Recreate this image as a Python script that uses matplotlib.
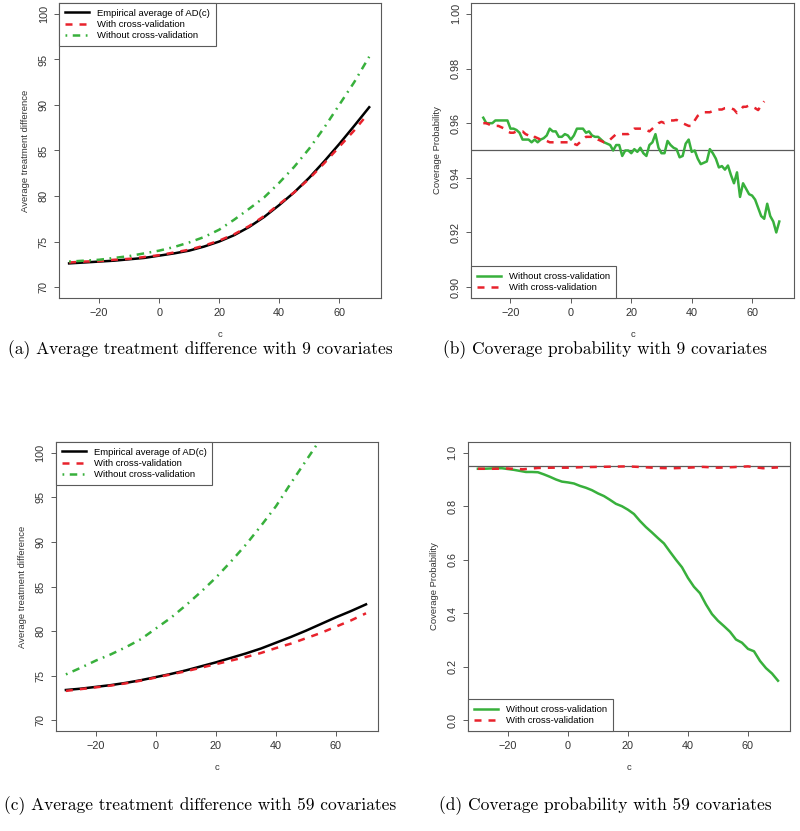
import numpy as np
import matplotlib
matplotlib.use("Agg")
import matplotlib.pyplot as plt

plt.rcParams['font.family'] = ['Liberation Sans', 'DejaVu Sans']

# ---- panel (a): 9 covariates, average treatment difference ----
a_c = [-30, -25, -20, -15, -10, -5, 0, 5, 10, 15, 20, 25, 30, 35, 40, 45, 50, 55, 60, 65, 70]
a_emp = [72.6, 72.7, 72.8, 72.9, 73.05, 73.2, 73.45, 73.7, 74.0, 74.45, 75.0,
         75.7, 76.6, 77.7, 79.0, 80.4, 82.0, 83.8, 85.7, 87.7, 89.75]
a_cv_c = [-30, -25, -20, -15, -10, -5, 0, 5, 10, 15, 20, 25, 30, 35, 40, 45, 50, 55, 60, 65, 68.5]
a_cv = [72.7, 72.8, 72.85, 73.0, 73.1, 73.3, 73.5, 73.8, 74.1, 74.55, 75.1,
        75.8, 76.7, 77.8, 79.1, 80.4, 81.9, 83.6, 85.4, 87.2, 88.6]
a_nocv = [72.8, 72.9, 73.0, 73.2, 73.4, 73.7, 74.0, 74.4, 74.9, 75.5, 76.3,
          77.4, 78.6, 79.85, 81.45, 83.2, 85.2, 87.5, 90.0, 92.5, 95.3]

# ---- panel (b): 9 covariates, coverage probability ----
b_c = list(range(-29, 70))
b_nocv = [0.962, 0.960, 0.960, 0.960, 0.961, 0.961, 0.961, 0.961, 0.961, 0.958,
          0.958, 0.9575, 0.9565, 0.954, 0.954, 0.954, 0.953, 0.954, 0.953, 0.954,
          0.9545, 0.9555, 0.958, 0.957, 0.957, 0.955, 0.955, 0.956, 0.9555, 0.954,
          0.9555, 0.958, 0.958, 0.958, 0.9565, 0.957, 0.9555, 0.955, 0.955, 0.954,
          0.953, 0.9525, 0.952, 0.950, 0.952, 0.952, 0.948, 0.950, 0.950, 0.949,
          0.9505, 0.9495, 0.951, 0.949, 0.948, 0.952, 0.953, 0.956, 0.951, 0.949,
          0.949, 0.9535, 0.952, 0.951, 0.9505, 0.9475, 0.948, 0.9525, 0.954, 0.9495,
          0.950, 0.947, 0.945, 0.9455, 0.946, 0.9505, 0.949, 0.947, 0.9438, 0.9443,
          0.943, 0.9445, 0.941, 0.938, 0.942, 0.933, 0.938, 0.936, 0.934, 0.9335,
          0.932, 0.929, 0.926, 0.925, 0.9305, 0.926, 0.924, 0.920, 0.924]
b_cv_c = list(range(-29, 65))
b_cv = [0.960, 0.960, 0.9595, 0.959, 0.959, 0.959, 0.9585, 0.958, 0.957, 0.9565,
        0.9565, 0.957, 0.957, 0.957, 0.956, 0.9555, 0.956, 0.955, 0.9545, 0.954,
        0.954, 0.9535, 0.953, 0.953, 0.953, 0.953, 0.953, 0.953, 0.953, 0.953,
        0.9525, 0.952, 0.953, 0.954, 0.955, 0.955, 0.955, 0.955, 0.954, 0.9535,
        0.953, 0.953, 0.954, 0.955, 0.956, 0.956, 0.956, 0.956, 0.956, 0.957,
        0.958, 0.958, 0.958, 0.958, 0.9575, 0.957, 0.958, 0.959, 0.960, 0.9605,
        0.960, 0.9605, 0.961, 0.961, 0.9612, 0.9605, 0.960, 0.9595, 0.959, 0.959,
        0.961, 0.9627, 0.9635, 0.964, 0.964, 0.964, 0.9645, 0.9648, 0.965, 0.965,
        0.9655, 0.9656, 0.9655, 0.965, 0.9637, 0.9645, 0.966, 0.966, 0.9665, 0.966,
        0.9655, 0.9648, 0.9665, 0.968]

# ---- panel (c): 59 covariates, average treatment difference ----
c_c = [-30, -25, -20, -15, -10, -5, 0, 5, 10, 15, 20, 25, 30, 35, 40, 45, 50, 55, 60, 65, 70]
c_emp = [73.4, 73.55, 73.75, 73.95, 74.2, 74.5, 74.85, 75.2, 75.6, 76.05, 76.5,
         77.0, 77.5, 78.05, 78.7, 79.35, 80.05, 80.8, 81.55, 82.25, 83.0]
c_cv = [73.3, 73.5, 73.7, 73.9, 74.15, 74.45, 74.8, 75.15, 75.5, 75.9, 76.3,
        76.7, 77.1, 77.55, 78.1, 78.6, 79.2, 79.8, 80.5, 81.2, 82.0]
c_nocv_c = [-30, -25, -20, -15, -10, -5, 0, 5, 10, 15, 20, 25, 30, 35, 40, 45, 50, 55]
c_nocv = [75.15, 75.9, 76.7, 77.4, 78.2, 79.1, 80.3, 81.5, 82.9, 84.4, 86.0,
          87.8, 89.7, 91.8, 94.0, 96.6, 99.1, 101.6]

# ---- panel (d): 59 covariates, coverage probability ----
d_c = list(range(-30, 71, 2))
d_nocv = [0.940, 0.940, 0.941, 0.942, 0.942, 0.939, 0.936, 0.932, 0.928, 0.928,
          0.927, 0.919, 0.910, 0.900, 0.892, 0.889, 0.885, 0.876, 0.869, 0.860,
          0.848, 0.838, 0.824, 0.809, 0.800, 0.787, 0.771, 0.745, 0.722, 0.702,
          0.681, 0.661, 0.630, 0.600, 0.572, 0.532, 0.499, 0.475, 0.433, 0.397,
          0.372, 0.352, 0.331, 0.302, 0.290, 0.267, 0.258, 0.222, 0.195, 0.175,
          0.148]
d_cv_c = [-30, -25, -20, -15, -10, -5, 0, 5, 10, 15, 20, 25, 30, 35, 40, 45, 50, 55, 60, 65, 70]
d_cv = [0.940, 0.940, 0.941, 0.938, 0.943, 0.944, 0.944, 0.946, 0.947, 0.948,
        0.949, 0.946, 0.943, 0.942, 0.944, 0.947, 0.944, 0.946, 0.949, 0.942, 0.945]

captions = ["(a) Average treatment difference with 9 covariates",
            "(b) Coverage probability with 9 covariates",
            "(c) Average treatment difference with 59 covariates",
            "(d) Coverage probability with 59 covariates"]

RED = '#e8222c'
GREEN = '#38b03c'
FRAME = '#5a5a5a'
DASH = (0, (2.8, 2.8))
DOTDASH = (0, (0.7, 2.2, 3.0, 2.2))
LW = 1.8
FS = 6.8
TICK_FS = 7.8


def style_axes(ax, xlim, ylim, yticks, ylabel, yfmt):
    ax.set_xlim(*xlim)
    ax.set_ylim(*ylim)
    ax.set_xticks([-20, 0, 20, 40, 60])
    ax.set_yticks(yticks)
    ax.set_yticklabels([yfmt.format(v) for v in yticks], rotation=90, va='center')
    for s in ax.spines.values():
        s.set_color(FRAME)
        s.set_linewidth(0.8)
    ax.tick_params(colors=FRAME, labelcolor='#333333', labelsize=TICK_FS,
                   length=3.5, width=0.7, pad=4)
    ax.set_xlabel('c', fontsize=FS, color='#333333', labelpad=8)
    ax.set_ylabel(ylabel, fontsize=FS, color='#333333', labelpad=6)


def add_legend(ax, loc):
    leg = ax.legend(loc=loc, fontsize=FS, frameon=True, fancybox=False,
                    borderaxespad=0, handlelength=2.6, handletextpad=0.8,
                    labelspacing=0.25, borderpad=0.6)
    leg.get_frame().set_edgecolor(FRAME)
    leg.get_frame().set_linewidth(0.8)
    leg.get_frame().set_alpha(1)


fig = plt.figure(figsize=(8, 8.31), dpi=100)
ax_a = fig.add_axes([0.074, 0.6414, 0.4025, 0.355])
ax_b = fig.add_axes([0.589, 0.6414, 0.404, 0.355])
ax_c = fig.add_axes([0.070, 0.1203, 0.4025, 0.3478])
ax_d = fig.add_axes([0.585, 0.1203, 0.4025, 0.3478])

# (a)
ax_a.plot(a_c, a_emp, color='black', lw=LW, label='Empirical average of AD(c)')
ax_a.plot(a_cv_c, a_cv, color=RED, lw=LW, ls=DASH, label='With cross-validation')
ax_a.plot(a_c, a_nocv, color=GREEN, lw=LW, ls=DOTDASH, label='Without cross-validation')
style_axes(ax_a, (-33.3, 74), (68.8, 101.2), [70, 75, 80, 85, 90, 95, 100],
           'Average treatment difference', '{:d}')
add_legend(ax_a, 'upper left')

# (b)
ax_b.axhline(0.95, color=FRAME, lw=0.9)
ax_b.plot(b_c, b_nocv, color=GREEN, lw=LW, label='Without cross-validation')
ax_b.plot(b_cv_c, b_cv, color=RED, lw=LW, ls=DASH, label='With cross-validation')
style_axes(ax_b, (-33, 74), (0.896, 1.004), [0.90, 0.92, 0.94, 0.96, 0.98, 1.00],
           'Coverage Probability', '{:.2f}')
add_legend(ax_b, 'lower left')

# (c)
ax_c.plot(c_c, c_emp, color='black', lw=LW, label='Empirical average of AD(c)')
ax_c.plot(c_c, c_cv, color=RED, lw=LW, ls=DASH, label='With cross-validation')
ax_c.plot(c_nocv_c, c_nocv, color=GREEN, lw=LW, ls=DOTDASH, label='Without cross-validation')
style_axes(ax_c, (-33.3, 74), (68.8, 101.2), [70, 75, 80, 85, 90, 95, 100],
           'Average treatment difference', '{:d}')
add_legend(ax_c, 'upper left')

# (d)
ax_d.axhline(0.95, color=FRAME, lw=0.9)
ax_d.plot(d_c, d_nocv, color=GREEN, lw=LW, label='Without cross-validation')
ax_d.plot(d_cv_c, d_cv, color=RED, lw=LW, ls=DASH, label='With cross-validation')
style_axes(ax_d, (-33.3, 74), (-0.04, 1.04), [0.0, 0.2, 0.4, 0.6, 0.8, 1.0],
           'Coverage Probability', '{:.1f}')
add_legend(ax_d, 'lower left')

# sub-figure captions
cap_font = dict(family=['cmr10', 'DejaVu Serif'], fontsize=12.5, ha='center', va='center')
fig.text(200 / 800, 1 - 350 / 831, captions[0], **cap_font)
fig.text(605 / 800, 1 - 350 / 831, captions[1], **cap_font)
fig.text(200 / 800, 1 - 806 / 831, captions[2], **cap_font)
fig.text(605 / 800, 1 - 806 / 831, captions[3], **cap_font)

fig.savefig('out.png', dpi=100)
